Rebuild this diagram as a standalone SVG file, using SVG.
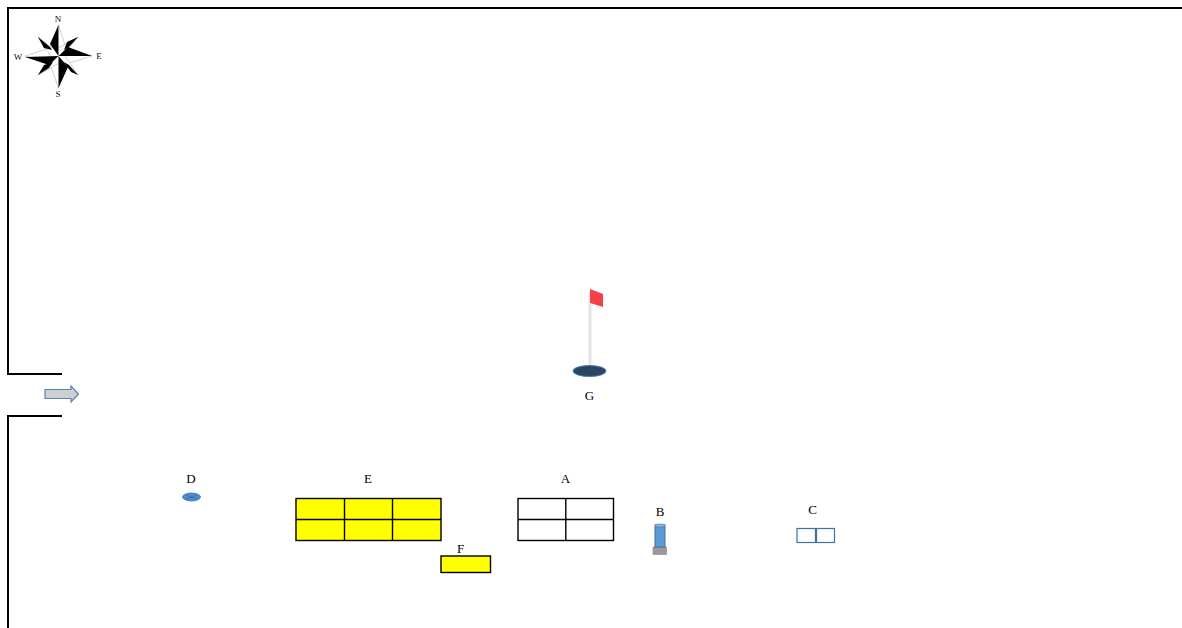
<svg xmlns="http://www.w3.org/2000/svg" width="1182" height="628" viewBox="0 0 1182 628">
<defs><filter id="soft" x="-10%" y="-10%" width="120%" height="120%"><feGaussianBlur stdDeviation="0.45"/></filter></defs>
<style>
.t{font-family:"Liberation Serif","Times New Roman",serif;font-size:13px;fill:#000;text-anchor:middle}
.c{font-size:9px;fill:#111}
.w{fill:none;stroke:#000;stroke-width:2}
.g{stroke:#000;stroke-width:1.4}
.y{fill:#ffff00}
.b{fill:#000}
.l{fill:#fff;stroke:#c4c4c4;stroke-width:.8}
</style>
<rect width="1182" height="628" fill="#fff"/>
<g id="walls">
<path class="w" d="M1182 8H8V374H62"/>
<path class="w" d="M62 416H8V628"/>
</g>
<g id="compass">
<g filter="url(#soft)">
<polygon class="l" points="58.500,25 66,48 92,56 66,64 58.500,88 50,64 25,56 50,48"/>
<polygon class="l" points="38,37 55,50 78,37 64,54 78,75 61,62 38,75 53,59"/>
<polygon class="b" points="38,37 50,47 52,50 44,48"/>
<polygon class="b" points="78,37 67,42 64,50 69,47"/>
<polygon class="b" points="78,75 69,65 64,62 71,72"/>
<polygon class="b" points="38,75 49,68 53,62 44,65"/>
<polygon class="b" points="58.500,25 58.500,56 50,44"/>
<polygon class="b" points="92,56 58.500,56 68,47"/>
<polygon class="b" points="58.500,88 58.500,56 68,67"/>
<polygon class="b" points="25,57 58.500,56 49,65"/>
</g>
<text class="t c" x="58" y="22">N</text>
<text class="t c" x="99" y="59">E</text>
<text class="t c" x="58" y="97">S</text>
<text class="t c" x="18" y="60">W</text>
</g>
<g id="entrance-arrow">
<polygon points="45,389.500 71,389.500 71,386 78.500,394 71,402 71,398.500 45,398.500" fill="#cfcfcf" stroke="#5b84ad" stroke-width="1.200"/>
</g>
<g id="G">
<rect x="588.500" y="292" width="3" height="76" fill="#e4e4e4" filter="url(#soft)"/>
<polygon points="590,289 603,294 603,307 590,303" fill="#f4404a" filter="url(#soft)"/>
<ellipse cx="589.500" cy="371" rx="16.500" ry="5.500" fill="#2a4564" stroke="#4d7ca8" stroke-width="1"/>
<text class="t" x="589.500" y="400">G</text>
</g>
<g id="D">
<ellipse cx="191.500" cy="497" rx="9" ry="4" fill="#4d8ccb" stroke="#3f75a8" stroke-width=".8"/>
<path d="M186 495L197 499M186 499L197 495" stroke="#2f5f90" stroke-width=".6"/>
<text class="t" x="191" y="483">D</text>
</g>
<g id="E">
<rect class="y g" x="296" y="498.500" width="145" height="42"/>
<path class="g" d="M344.500 498.500V540.500M392.500 498.500V540.500M296 519.500H441" fill="none"/>
<text class="t" x="368" y="483">E</text>
</g>
<g id="F">
<rect class="y g" x="441" y="556" width="49.500" height="16.500"/>
<text class="t" x="460.500" y="553">F</text>
</g>
<g id="A">
<rect class="g" x="518" y="498.500" width="95.500" height="42" fill="#fff"/>
<path class="g" d="M565.800 498.500V540.500M518 519.500H613.500" fill="none"/>
<text class="t" x="565.500" y="483">A</text>
</g>
<g id="B">
<rect x="653" y="547" width="13.500" height="7.500" fill="#999" stroke="#888" stroke-width=".6"/>
<rect x="655" y="525" width="10" height="22" fill="#5b9bd5" stroke="#41719c" stroke-width="1"/>
<ellipse cx="660" cy="525.500" rx="5" ry="1.500" fill="#8db8e0" stroke="#41719c" stroke-width=".6"/>
<text class="t" x="660" y="516">B</text>
</g>
<g id="C">
<rect x="797" y="528.500" width="18.500" height="14" fill="#fff" stroke="#41719c" stroke-width="1.200"/>
<rect x="816.500" y="528.500" width="18" height="14" fill="#fff" stroke="#41719c" stroke-width="1.200"/>
<text class="t" x="812.500" y="514">C</text>
</g>
<g id="connectors"/>
</svg>
